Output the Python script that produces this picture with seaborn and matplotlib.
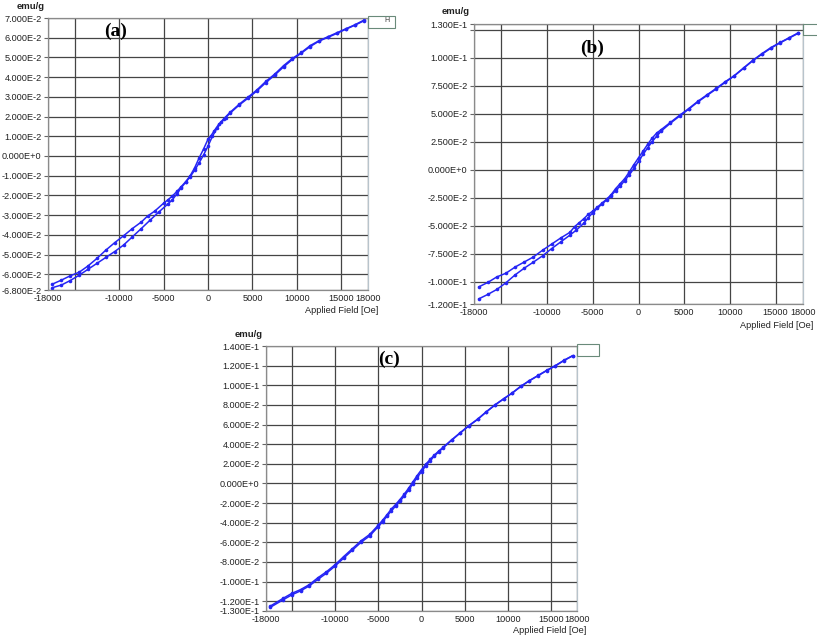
import numpy as np
import pandas as pd
import matplotlib
matplotlib.use("Agg")
import matplotlib.pyplot as plt
from matplotlib.patches import Rectangle
import seaborn as sns

# ---------------------------
# Data
# ---------------------------
a_desc_h = [17500, 16500, 15500, 14500, 13500, 12500, 11500, 10500, 9500, 8500, 7500, 6500,
            5500, 4500, 3500, 2500, 1800, 1200, 700, 300, 0, -500, -1000, -1500, -2000, -2500,
            -3000, -3500, -4000, -4500, -5000, -6000, -6800, -7500, -8500, -9500, -10500,
            -11500, -12500, -13500, -14500, -15500, -16500, -17500]
a_desc_m = [0.0688, 0.0665, 0.0645, 0.0625, 0.0605, 0.0585, 0.0560, 0.0525, 0.0495, 0.0458,
            0.0415, 0.0378, 0.0335, 0.0298, 0.0262, 0.0222, 0.0190, 0.0160, 0.0128, 0.0100,
            0.0085, 0.0035, -0.0010, -0.0060, -0.0100, -0.0130, -0.0155, -0.0180, -0.0203,
            -0.0222, -0.0240, -0.0280, -0.0305, -0.0335, -0.0368, -0.0405, -0.0440, -0.0478,
            -0.0520, -0.0558, -0.0590, -0.0608, -0.0630, -0.0650]
a_asc_h = [-17500, -16500, -15500, -14500, -13500, -12500, -11500, -10500, -9500, -8500, -7500,
           -6500, -5500, -4500, -4000, -3500, -3000, -2500, -2000, -1500, -1000, -500, 0, 500,
           1000, 1500, 2000, 2500, 3500, 4500, 5500, 6500, 7500, 8500, 9500, 10500, 11500,
           12500, 13500, 14500, 15500, 16500, 17500]
a_asc_m = [-0.0668, -0.0655, -0.0632, -0.0605, -0.0575, -0.0545, -0.0515, -0.0485, -0.0452,
           -0.0410, -0.0368, -0.0325, -0.0283, -0.0243, -0.0222, -0.0192, -0.0160, -0.0133,
           -0.0105, -0.0072, -0.0035, 0.0005, 0.0050, 0.0100, 0.0140, 0.0170, 0.0195, 0.0218,
           0.0258, 0.0293, 0.0330, 0.0372, 0.0410, 0.0452, 0.0490, 0.0522, 0.0555, 0.0583,
           0.0602, 0.0622, 0.0643, 0.0663, 0.0685]

b_desc_h = [17500, 16500, 15500, 14500, 13500, 12500, 11500, 10500, 9500, 8500, 7500, 6500,
            5500, 4500, 3500, 2500, 2000, 1500, 1000, 500, 0, -500, -1000, -1500, -2000, -2500,
            -3000, -3500, -4000, -4500, -5000, -5500, -6000, -6500, -7000, -7500, -8500, -9500,
            -10500, -11500, -12500, -13500, -14500, -15500, -16500, -17500]
b_desc_m = [0.1222, 0.1178, 0.1135, 0.1090, 0.1035, 0.0975, 0.0908, 0.0840, 0.0785, 0.0725,
            0.0668, 0.0610, 0.0545, 0.0485, 0.0422, 0.0358, 0.0327, 0.0282, 0.0225, 0.0165,
            0.0105, 0.0045, -0.0020, -0.0080, -0.0125, -0.0170, -0.0225, -0.0265, -0.0300,
            -0.0335, -0.0370, -0.0400, -0.0440, -0.0475, -0.0510, -0.0560, -0.0610, -0.0665,
            -0.0720, -0.0780, -0.0825, -0.0870, -0.0925, -0.0958, -0.1008, -0.1048]
b_asc_h = [-17500, -16500, -15500, -14500, -13500, -12500, -11500, -10500, -9500, -8500, -7500,
           -6800, -6000, -5500, -5000, -4500, -4000, -3500, -3000, -2500, -2000, -1500, -1000,
           -500, 0, 500, 1000, 1500, 2000, 2500, 3500, 4500, 5500, 6500, 7500, 8500, 9500,
           10500, 11500, 12500, 13500, 14500, 15500, 16500, 17500]
b_asc_m = [-0.1155, -0.1115, -0.1070, -0.1010, -0.0940, -0.0880, -0.0826, -0.0770, -0.0705,
           -0.0645, -0.0585, -0.0540, -0.0480, -0.0430, -0.0385, -0.0345, -0.0308, -0.0272,
           -0.0232, -0.0188, -0.0145, -0.0098, -0.0045, 0.0010, 0.0075, 0.0135, 0.0195, 0.0250,
           0.0300, 0.0345, 0.0415, 0.0478, 0.0540, 0.0605, 0.0662, 0.0720, 0.0780, 0.0838,
           0.0905, 0.0972, 0.1030, 0.1085, 0.1132, 0.1175, 0.1218]

c_desc_h = [17500, 16500, 15500, 14500, 13500, 12500, 11500, 10500, 9500, 8500, 7500, 6500,
            5500, 4500, 3500, 2500, 2000, 1500, 1000, 500, 0, -500, -1000, -1500, -2000, -2500,
            -3000, -3500, -4000, -4500, -5000, -6000, -7000, -8000, -9000, -10000, -11000,
            -12000, -13000, -14000, -15000, -16000, -17500]
c_desc_m = [0.1302, 0.1255, 0.1200, 0.1152, 0.1100, 0.1048, 0.0990, 0.0922, 0.0862, 0.0800,
            0.0730, 0.0655, 0.0590, 0.0518, 0.0445, 0.0368, 0.0330, 0.0290, 0.0245, 0.0195,
            0.0140, 0.0080, 0.0015, -0.0050, -0.0110, -0.0165, -0.0215, -0.0262, -0.0320,
            -0.0375, -0.0425, -0.0520, -0.0585, -0.0665, -0.0745, -0.0828, -0.0900, -0.0962,
            -0.1032, -0.1082, -0.1120, -0.1170, -0.1250]
c_asc_h = [-17500, -16000, -15000, -14000, -13000, -12000, -11000, -10000, -9000, -8000, -7000,
           -6000, -5000, -4500, -4000, -3500, -3000, -2500, -2000, -1500, -1000, -500, 0, 500,
           1000, 1500, 2000, 2500, 3500, 4500, 5500, 6500, 7500, 8500, 9500, 10500, 11500,
           12500, 13500, 14500, 15500, 16500, 17500]
c_asc_m = [-0.1262, -0.1185, -0.1135, -0.1095, -0.1045, -0.0978, -0.0915, -0.0842, -0.0760,
           -0.0680, -0.0600, -0.0535, -0.0440, -0.0390, -0.0335, -0.0280, -0.0232, -0.0182,
           -0.0128, -0.0068, -0.0005, 0.0060, 0.0120, 0.0180, 0.0232, 0.0280, 0.0322, 0.0362,
           0.0440, 0.0515, 0.0588, 0.0652, 0.0728, 0.0798, 0.0860, 0.0920, 0.0988, 0.1046,
           0.1098, 0.1150, 0.1198, 0.1252, 0.1300]

# Axis ticks
x_ticks = [-18000, -15000, -10000, -5000, 0, 5000, 10000, 15000, 18000]
x_labels = ["-18000", "", "-10000", "-5000", "0", "5000", "10000", "15000", "18000"]

a_yticks = [0.07, 0.06, 0.05, 0.04, 0.03, 0.02, 0.01, 0.0, -0.01, -0.02, -0.03, -0.04,
            -0.05, -0.06, -0.068]
a_ylabels = ["7.000E-2", "6.000E-2", "5.000E-2", "4.000E-2", "3.000E-2", "2.000E-2",
             "1.000E-2", "0.000E+0", "-1.000E-2", "-2.000E-2", "-3.000E-2", "-4.000E-2",
             "-5.000E-2", "-6.000E-2", "-6.800E-2"]
b_yticks = [0.13, 0.125, 0.1, 0.075, 0.05, 0.025, 0.0, -0.025, -0.05, -0.075, -0.1, -0.12]
b_ylabels = ["1.300E-1", "", "1.000E-1", "7.500E-2", "5.000E-2", "2.500E-2", "0.000E+0",
             "-2.500E-2", "-5.000E-2", "-7.500E-2", "-1.000E-1", "-1.200E-1"]
c_yticks = [0.14, 0.12, 0.1, 0.08, 0.06, 0.04, 0.02, 0.0, -0.02, -0.04, -0.06, -0.08,
            -0.1, -0.12, -0.13]
c_ylabels = ["1.400E-1", "1.200E-1", "1.000E-1", "8.000E-2", "6.000E-2", "4.000E-2",
             "2.000E-2", "0.000E+0", "-2.000E-2", "-4.000E-2", "-6.000E-2", "-8.000E-2",
             "-1.000E-1", "-1.200E-1", "-1.300E-1"]

panels = [
    ("(a)", a_desc_h, a_desc_m, a_asc_h, a_asc_m, a_yticks, a_ylabels, (0.21, 0.952)),
    ("(b)", b_desc_h, b_desc_m, b_asc_h, b_asc_m, b_yticks, b_ylabels, (0.358, 0.914)),
    ("(c)", c_desc_h, c_desc_m, c_asc_h, c_asc_m, c_yticks, c_ylabels, (0.395, 0.951)),
]

# ---------------------------
# Style
# ---------------------------
sns.set_style("white")
plt.rcParams["font.family"] = ["Liberation Sans", "DejaVu Sans"]

W, H = 817, 637
fig = plt.figure(figsize=(W / 100, H / 100), dpi=100)

# axes boxes in pixels: left, right, top, bottom
boxes = [(48, 368, 18, 290), (474, 803, 24, 304), (266, 577, 346, 611)]
legend_boxes = [(368, 387, 16, 28), (803, 817, 24, 35), (577, 591, 344, 356)]

line_color = "#2525f5"

for (name, dh, dm, ah, am, yt, yl, lab_pos), (l, r, t, b), lb in zip(panels, boxes, legend_boxes):
    ax = fig.add_axes([l / W, 1 - b / H, (r - l) / W, (b - t) / H])

    df = pd.concat([
        pd.DataFrame({"H": dh, "M": dm, "branch": "desc"}),
        pd.DataFrame({"H": ah, "M": am, "branch": "asc"}),
    ])
    for br, sub in df.groupby("branch"):
        sns.lineplot(data=sub, x="H", y="M", sort=False, estimator=None, ax=ax,
                     color=line_color, lw=1.1, marker="o", markersize=2.6,
                     markeredgewidth=0, legend=False)

    ax.set_xlim(-18000, 18000)
    ax.set_ylim(yt[-1], yt[0])
    ax.set_xticks(x_ticks)
    ax.set_xticklabels(x_labels)
    ax.set_yticks(yt)
    ax.set_yticklabels(yl)
    ax.grid(True, color="#454545", lw=0.9)
    ax.set_axisbelow(True)
    ax.tick_params(axis="both", labelsize=6.6, colors="#222222", pad=1.5)
    ax.tick_params(axis="y", length=3, width=0.8, left=True, color="#666666")
    ax.tick_params(axis="x", length=0, pad=3)
    for s in ["left", "top", "bottom"]:
        ax.spines[s].set_color("#8a8a8a")
        ax.spines[s].set_linewidth(0.9)
    ax.spines["right"].set_color("#b8c4cc")
    ax.spines["right"].set_linewidth(0.9)
    ax.set_xlabel("")
    ax.set_ylabel("")

    ax.text(1.031, -0.075, "Applied Field [Oe]", transform=ax.transAxes, ha="right",
            va="center", fontsize=6.6, color="#222222")
    ax.text(-0.055, 1.044, "emu/g", transform=ax.transAxes, ha="center", va="center",
            fontsize=6.8, fontweight="bold", color="#222222")
    ax.text(lab_pos[0], lab_pos[1], name, transform=ax.transAxes, ha="center", va="center",
            fontsize=14, fontweight="bold", family="Liberation Serif", color="black")

    # cut-off legend stub
    x0, x1, y0, y1 = lb
    fig.add_artist(Rectangle((x0 / W, 1 - y1 / H), (x1 - x0 + 8) / W, (y1 - y0) / H,
                             transform=fig.transFigure, fill=False, edgecolor="#6a8a7a",
                             lw=0.8, clip_on=False))

fig.text(384 / W, 1 - 21 / H, "H", fontsize=5, ha="left", va="center", color="#333333")

plt.savefig("out.png", dpi=100)
